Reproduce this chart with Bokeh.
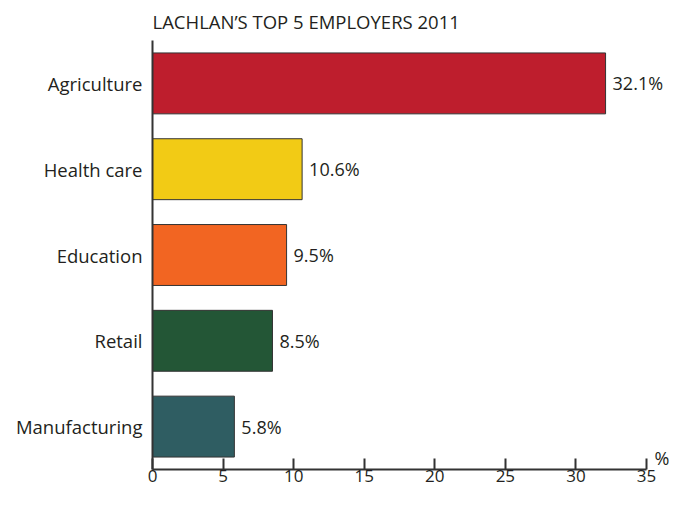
from bokeh.plotting import figure
from bokeh.models import Range1d, Label, LabelSet, FixedTicker, Title, ColumnDataSource
from bokeh.core.properties import value
from bokeh.embed import file_html
from bokeh.resources import INLINE

categories = ["Agriculture", "Health care", "Education", "Retail", "Manufacturing"]
shares = [32.1, 10.6, 9.5, 8.5, 5.8]
labels = ["32.1%", "10.6%", "9.5%", "8.5%", "5.8%"]
colors = ["#be1e2d", "#f2cb15", "#f26522", "#235636", "#2f5d62"]
x_ticks = [0, 5, 10, 15, 20, 25, 30, 35]

FONT = "Open Sans"
TXT = "#231f20"

n = len(categories)
ypos = [n - 1 - i for i in range(n)]
src = ColumnDataSource(dict(y=ypos, share=shares, label=labels, color=colors, cat=categories))

W, LEFT = 669, 152
x_max = 35
x_end = x_max * (W - LEFT) / (646 - LEFT)

p = figure(width=W, height=489, output_backend="svg", toolbar_location=None,
           y_range=Range1d(-0.5, n - 0.5), x_range=Range1d(0, x_end),
           min_border_left=LEFT, min_border_right=0, min_border_top=39, min_border_bottom=20)

p.hbar(y="y", right="share", left=0, height=0.71, fill_color="color",
       line_color="#333333", line_width=1, source=src)

p.add_layout(LabelSet(x="share", y="y", text="label", x_offset=7, source=src,
                      text_baseline="middle", text_align="left", text_font=value(FONT),
                      text_font_size="18px", text_color=TXT))

p.title = Title(text="LACHLAN\u2019S TOP 5 EMPLOYERS 2011", text_font=FONT,
                text_font_size="18.5px", text_font_style="normal", text_color=TXT,
                align="left", offset=0, standoff=13)

p.xgrid.visible = False
p.ygrid.visible = False
p.outline_line_color = None

xa = p.xaxis[0]
xa.ticker = FixedTicker(ticks=x_ticks)
xa.bounds = (0, x_max)
xa.minor_tick_line_color = None
xa.major_tick_in = 11
xa.major_tick_out = 0
xa.axis_line_width = 2
xa.major_tick_line_width = 2
xa.axis_line_color = "#333333"
xa.major_tick_line_color = "#333333"
xa.major_label_text_font = FONT
xa.major_label_text_font_size = "17px"
xa.major_label_text_color = TXT
xa.major_label_standoff = 0

ya = p.yaxis[0]
ya.ticker = FixedTicker(ticks=ypos)
ya.major_label_overrides = {y: c for y, c in zip(ypos, categories)}
ya.major_tick_line_color = None
ya.minor_tick_line_color = None
ya.axis_line_width = 2
ya.axis_line_color = "#333333"
ya.major_label_text_font = FONT
ya.major_label_text_font_size = "18.5px"
ya.major_label_text_color = TXT
ya.major_label_standoff = 4

p.add_layout(Label(x=x_max, y=-0.5, text="%", x_offset=8, y_offset=12, text_baseline="alphabetic",
                   text_font=FONT, text_font_size="18px", text_color=TXT))

open("out.html", "w").write(file_html(p, INLINE))
